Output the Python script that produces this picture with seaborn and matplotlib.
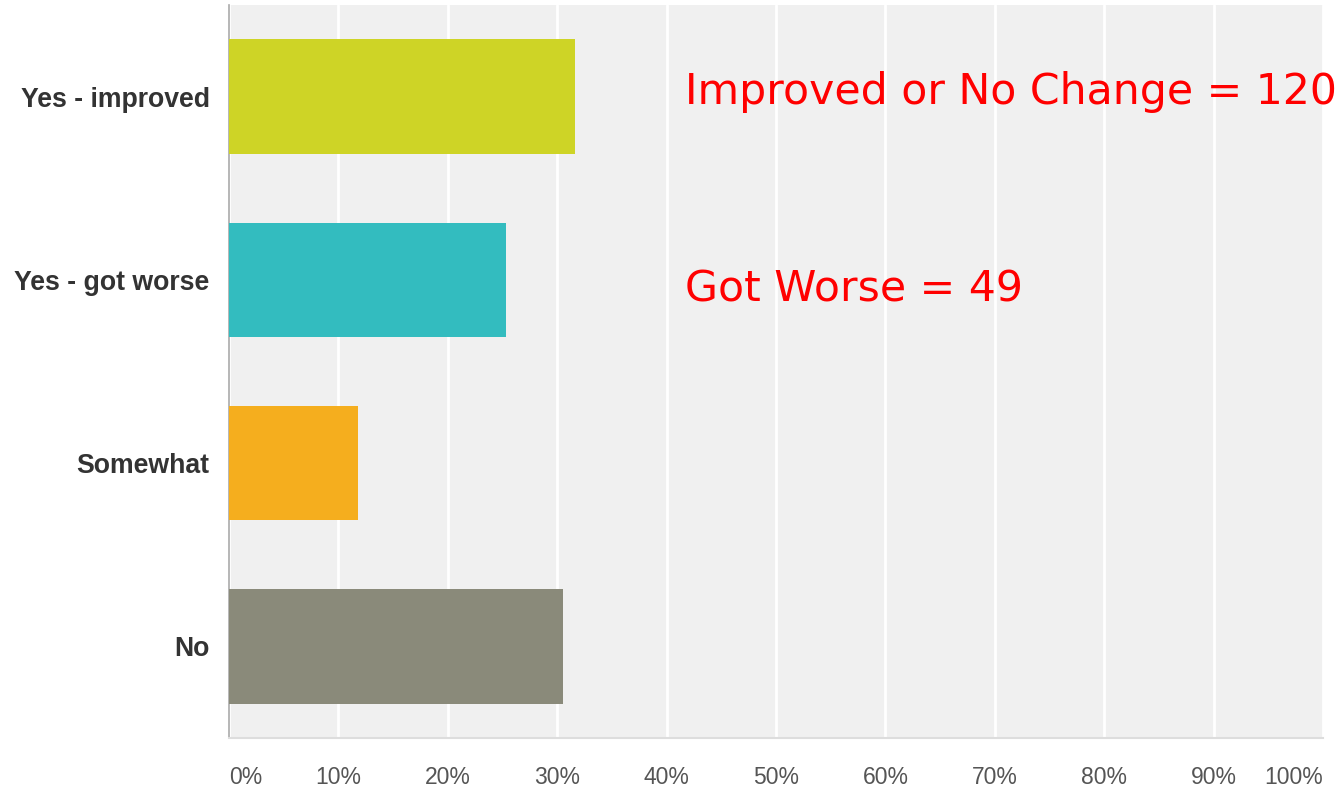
import matplotlib
matplotlib.use("Agg")
import matplotlib.pyplot as plt
import seaborn as sns
import pandas as pd

categories = ["Yes - improved", "Yes - got worse", "Somewhat", "No"]
percents = [31.6, 25.3, 11.8, 30.5]
colors = ["#CED426", "#33BCBF", "#F5AE1E", "#8A8A7A"]
tick_values = [0, 10, 20, 30, 40, 50, 60, 70, 80, 90, 100]
tick_labels = ["0%", "10%", "20%", "30%", "40%", "50%", "60%", "70%", "80%", "90%", "100%"]
annotations = ["Improved or No Change = 120", "Got Worse = 49"]

sns.set_style("white")
plt.rcParams['font.family'] = ['Liberation Sans', 'DejaVu Sans']

df = pd.DataFrame({"cat": categories, "pct": percents})

fig = plt.figure(figsize=(13.43, 7.91), dpi=100)
ax = fig.add_axes([229/1343, 1 - 738/791, (1323-229)/1343, (738-5)/791])
ax.set_facecolor("#F0F0F0")

sns.barplot(data=df, x="pct", y="cat", hue="cat", palette=colors, orient="h",
            width=0.625, legend=False, ax=ax, zorder=3, saturation=1, linewidth=0)

ax.set_xlim(0, 100)
ax.set_ylim(3.5, -0.5)
ax.set_xticks(tick_values)
ax.set_xticklabels(tick_labels, color="#555555", fontsize=16.5)
xt = ax.get_xticklabels()
xt[0].set_ha("left")
xt[-1].set_ha("right")
ax.tick_params(axis="x", length=0, pad=20)
ax.tick_params(axis="y", length=0, pad=14)
for lab in ax.get_yticklabels():
    lab.set_fontweight("bold")
    lab.set_color("#333333")
    lab.set_fontsize(19.2)

ax.grid(axis="x", color="white", linewidth=2, zorder=0)
ax.set_axisbelow(True)
ax.set_xlabel("")
ax.set_ylabel("")
for s in ["top", "right"]:
    ax.spines[s].set_visible(False)
ax.spines["left"].set_color("#AAAAAA")
ax.spines["left"].set_linewidth(1.2)
ax.spines["bottom"].set_color("#DDDDDD")
ax.spines["bottom"].set_linewidth(1.5)

fig.text(685/1343, 1 - 92/791, annotations[0], color="#FF0000", fontsize=30.7,
         family=["DejaVu Sans"], va="center", ha="left")
fig.text(685/1343, 1 - 289/791, annotations[1], color="#FF0000", fontsize=30.7,
         family=["DejaVu Sans"], va="center", ha="left")

fig.savefig("out.png", dpi=100)
